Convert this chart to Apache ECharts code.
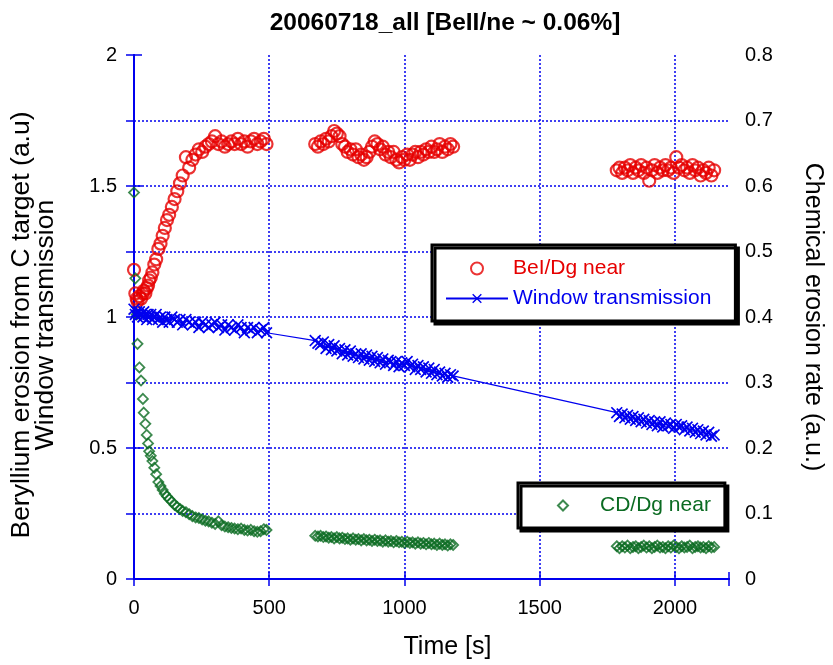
<!DOCTYPE html>
<html>
<head>
<meta charset="utf-8">
<title>20060718_all</title>
<script src="https://cdn.jsdelivr.net/npm/echarts@6/dist/echarts.min.js"></script>
<style>
  html, body { margin: 0; padding: 0; background: #fff; }
  #chart { width: 833px; height: 665px; }
</style>
</head>
<body>
<div id="chart"></div>
<script>
// time stamps [s] of the three acquisition windows
const timeA = [0, 5, 10, 13, 20, 26, 33, 36, 42, 47, 52, 56, 62, 68, 75, 82, 90, 98, 106, 114,
  122, 130, 140, 150, 160, 170, 180, 192, 204, 216, 228, 240, 252, 264, 276, 288, 300, 312, 324, 336,
  348, 360, 372, 384, 396, 408, 420, 432, 444, 456, 468, 480, 490];
const timeB = [670, 680, 690, 700, 710, 720, 730, 740, 750, 760, 770, 780, 790, 800, 810, 820, 830,
  840, 850, 860, 870, 880, 890, 900, 910, 920, 930, 940, 950, 960, 970, 980, 990, 1000, 1010, 1020,
  1030, 1040, 1050, 1060, 1070, 1080, 1090, 1100, 1110, 1120, 1130, 1140, 1150, 1160, 1170, 1180];
const timeC = [1785, 1795, 1805, 1815, 1825, 1835, 1845, 1855, 1865, 1875, 1885, 1895, 1905, 1915,
  1925, 1935, 1945, 1955, 1965, 1975, 1985, 1995, 2005, 2015, 2025, 2035, 2045, 2055, 2065, 2075,
  2085, 2095, 2105, 2115, 2125, 2135, 2145];

// BeI/Dg near (left axis)
const beA = [1.18, 1.09, 1.07, 1.06, 1.08, 1.07, 1.09, 1.10, 1.09, 1.11, 1.12, 1.14, 1.15, 1.17, 1.20,
  1.22, 1.26, 1.28, 1.31, 1.34, 1.37, 1.39, 1.42, 1.45, 1.48, 1.51, 1.54, 1.61, 1.57, 1.60,
  1.62, 1.64, 1.63, 1.65, 1.66, 1.67, 1.69, 1.66, 1.67, 1.65, 1.66, 1.67, 1.66, 1.68, 1.66,
  1.67, 1.65, 1.67, 1.68, 1.66, 1.67, 1.68, 1.66];
const beB = [1.66, 1.65, 1.67, 1.66, 1.68, 1.67, 1.69, 1.71, 1.70, 1.69,
  1.66, 1.65, 1.63, 1.64, 1.62, 1.64, 1.61, 1.62, 1.60, 1.61,
  1.63, 1.65, 1.67, 1.66, 1.64, 1.65, 1.62, 1.63, 1.61, 1.63,
  1.60, 1.59, 1.61, 1.60, 1.62, 1.60, 1.62, 1.63, 1.61, 1.63,
  1.62, 1.64, 1.63, 1.65, 1.63, 1.64, 1.66, 1.63, 1.65, 1.64,
  1.66, 1.65];
const beC = [1.56, 1.57, 1.55, 1.57, 1.56, 1.58, 1.55, 1.57, 1.56, 1.58,
  1.55, 1.57, 1.52, 1.56, 1.58, 1.55, 1.57, 1.56, 1.58, 1.56,
  1.57, 1.55, 1.61, 1.57, 1.58, 1.56, 1.57, 1.55, 1.58, 1.56,
  1.57, 1.54, 1.56, 1.55, 1.57, 1.54, 1.56];

// Window transmission (left axis)
const winA = [1.03, 1.01, 1.02, 1.00, 1.02, 1.01, 1.00, 1.02, 1.01, 0.99, 1.01, 1.00, 1.01, 0.99, 1.00,
  1.01, 0.99, 1.00, 0.98, 1.00, 0.99, 0.98, 1.00, 0.99, 0.98, 0.99, 0.97, 0.99, 0.98, 0.97,
  0.98, 0.96, 0.98, 0.97, 0.96, 0.97, 0.98, 0.96, 0.97, 0.95, 0.97, 0.96, 0.95, 0.97, 0.96,
  0.94, 0.96, 0.95, 0.96, 0.94, 0.95, 0.96, 0.94];
const winB = [0.91, 0.90, 0.895, 0.905, 0.88, 0.895, 0.875, 0.89, 0.87, 0.88,
  0.86, 0.875, 0.855, 0.87, 0.85, 0.86, 0.845, 0.86, 0.84, 0.855,
  0.835, 0.85, 0.83, 0.845, 0.825, 0.84, 0.82, 0.835, 0.83, 0.815,
  0.83, 0.81, 0.825, 0.815, 0.83, 0.81, 0.82, 0.80, 0.815, 0.80,
  0.81, 0.79, 0.805, 0.785, 0.80, 0.78, 0.79, 0.775, 0.785, 0.77,
  0.78, 0.775];
const winC = [0.635, 0.62, 0.63, 0.615, 0.625, 0.61, 0.62, 0.605, 0.615, 0.60,
  0.61, 0.595, 0.605, 0.59, 0.60, 0.585, 0.60, 0.58, 0.595, 0.585,
  0.59, 0.575, 0.59, 0.58, 0.585, 0.57, 0.58, 0.565, 0.575, 0.56,
  0.57, 0.555, 0.565, 0.55, 0.56, 0.545, 0.55];

// CD/Dg near (right axis, chemical erosion rate)
const cdA = [0.590, 0.459, 0.404, 0.359, 0.323, 0.303, 0.275, 0.254, 0.237, 0.220, 0.207, 0.195, 0.188,
  0.180, 0.170, 0.160, 0.148, 0.142, 0.136, 0.130, 0.126, 0.122, 0.118, 0.113, 0.110, 0.107,
  0.104, 0.102, 0.099, 0.096, 0.094, 0.093, 0.091, 0.089, 0.088, 0.086, 0.084, 0.088, 0.082,
  0.080, 0.079, 0.078, 0.077, 0.076, 0.077, 0.075, 0.074, 0.075, 0.073, 0.072, 0.073, 0.076, 0.075];
const cdB = [0.066, 0.065, 0.066, 0.064, 0.065, 0.063, 0.064, 0.062, 0.064, 0.062,
  0.063, 0.061, 0.062, 0.060, 0.062, 0.060, 0.061, 0.059, 0.061, 0.059,
  0.060, 0.058, 0.060, 0.058, 0.059, 0.057, 0.059, 0.057, 0.058, 0.056,
  0.058, 0.056, 0.057, 0.055, 0.057, 0.055, 0.056, 0.054, 0.056, 0.054,
  0.055, 0.053, 0.055, 0.053, 0.054, 0.052, 0.054, 0.052, 0.053, 0.051,
  0.053, 0.052];
const cdC = [0.050, 0.047, 0.050, 0.048, 0.051, 0.047, 0.049, 0.050, 0.047, 0.049,
  0.051, 0.048, 0.050, 0.047, 0.049, 0.051, 0.048, 0.049, 0.047, 0.050,
  0.048, 0.051, 0.049, 0.047, 0.050, 0.048, 0.049, 0.051, 0.047, 0.049,
  0.050, 0.048, 0.049, 0.047, 0.050, 0.048, 0.049];

const RED = '#e60000';
const BLUE = '#0000ee';
const GREEN = '#0b6b22';
const FONT = '"Liberation Sans", Arial, sans-serif';
const CROSS = 'path://M0,1L1,0L5,4L9,0L10,1L6,5L10,9L9,10L5,6L1,10L0,9L4,5Z';
const DIAMOND = 'path://M5,0L10,5L5,10L0,5Z';

const zip = (ts, vs) => ts.map((t, i) => [t, vs[i]]);
const join3 = (ta, a, tb, b, tc, c) => zip(ta, a).concat(zip(tb, b), zip(tc, c));

const axisLine = { show: true, lineStyle: { color: BLUE, width: 2 } };
const dotted = { show: true, lineStyle: { color: BLUE, type: [2, 2], width: 1.5 } };
const legendBox = {
  orient: 'vertical', backgroundColor: '#fff', borderColor: '#000', borderWidth: 3,
  shadowColor: '#000', shadowOffsetX: 3, shadowOffsetY: 3, shadowBlur: 0,
  symbolKeepAspect: true, selectedMode: false,
  textStyle: { fontFamily: FONT, fontSize: 21 }
};

const chart = echarts.init(document.getElementById('chart'));
chart.setOption({
  animation: false,
  backgroundColor: '#fff',
  textStyle: { fontFamily: FONT },
  title: {
    text: '20060718_all [BeII/ne ~ 0.06%]',
    left: 440, top: 6, textAlign: 'center',
    textStyle: { fontFamily: FONT, fontSize: 24.5, fontWeight: 'bold', color: '#000' }
  },
  grid: { left: 134, right: 100, top: 55, bottom: 84, containLabel: false },
  legend: [Object.assign({
    data: [
      { name: 'BeI/Dg near', textStyle: { color: RED } },
      { name: 'Window transmission', textStyle: { color: BLUE } }
    ],
    left: 432, top: 245,
    padding: [13, 24, 12, 13],
    itemWidth: 62, itemHeight: 12, itemGap: 9
  }, legendBox), Object.assign({
    data: [{ name: 'CD/Dg near', textStyle: { color: GREEN } }],
    left: 518, top: 483,
    padding: [12, 14, 12, 39],
    itemWidth: 64, itemHeight: 10
  }, legendBox)],
  xAxis: [{
    type: 'value', position: 'bottom', min: 0, max: 2200, interval: 500,
    name: 'Time [s]', nameLocation: 'middle', nameGap: 56,
    nameTextStyle: { fontFamily: FONT, fontSize: 25, color: '#000', padding: [0, 0, 0, 32] },
    axisLine: axisLine,
    axisTick: { inside: true, length: 7, lineStyle: { color: BLUE, width: 1.5 } },
    axisLabel: {
      fontSize: 20, color: '#000', margin: 19,
      formatter: v => (v % 500 === 0 ? String(v) : '')
    },
    splitLine: Object.assign({ showMinLine: false, showMaxLine: false }, dotted)
  }, {
    type: 'value', position: 'top', min: 0, max: 2200, interval: 500,
    axisLine: axisLine,
    axisTick: { inside: true, length: 7, lineStyle: { color: BLUE, width: 1.5 } },
    axisLabel: { show: false },
    splitLine: { show: false }
  }],
  yAxis: [{
    type: 'value', position: 'left', min: 0, max: 2, interval: 0.5,
    name: 'Beryllium erosion from C target (a.u)\nWindow transmission',
    nameLocation: 'middle', nameGap: 76, nameRotate: 90,
    nameTextStyle: { fontFamily: FONT, fontSize: 26.5, lineHeight: 24, color: '#000', padding: [0, 16, 0, 0] },
    axisLine: axisLine,
    axisTick: { inside: true, length: 8, lineStyle: { color: BLUE, width: 1.5 } },
    axisLabel: { fontSize: 20, color: '#000', margin: 17 },
    splitLine: { show: false }
  }, {
    type: 'value', position: 'right', min: 0, max: 0.8, interval: 0.1,
    name: 'Chemical erosion rate (a.u.)',
    nameLocation: 'middle', nameGap: 71, nameRotate: -90,
    nameTextStyle: { fontFamily: FONT, fontSize: 25, color: '#000', padding: [8, 0, 0, 0] },
    axisLine: axisLine,
    axisTick: { inside: true, length: 8, lineStyle: { color: BLUE, width: 1.5 } },
    axisLabel: { fontSize: 20, color: '#000', margin: 16 },
    splitLine: Object.assign({ showMinLine: false, showMaxLine: false }, dotted)
  }],
  series: [{
    name: 'BeI/Dg near',
    type: 'scatter', xAxisIndex: 0, yAxisIndex: 0,
    data: join3(timeA, beA, timeB, beB, timeC, beC),
    symbol: 'circle', symbolSize: 12,
    itemStyle: { color: 'rgba(0,0,0,0)', borderColor: RED, borderWidth: 2.2 },
    emphasis: { disabled: true }
  }, {
    name: 'Window transmission',
    type: 'line', xAxisIndex: 0, yAxisIndex: 0,
    data: join3(timeA, winA, timeB, winB, timeC, winC),
    symbol: CROSS, symbolSize: 12, showAllSymbol: true,
    lineStyle: { color: BLUE, width: 1.2 },
    itemStyle: { color: BLUE },
    emphasis: { disabled: true }
  }, {
    name: 'CD/Dg near',
    type: 'scatter', xAxisIndex: 0, yAxisIndex: 1,
    data: join3(timeA, cdA, timeB, cdB, timeC, cdC),
    symbol: DIAMOND, symbolSize: 10,
    itemStyle: { color: 'rgba(0,0,0,0)', borderColor: GREEN, borderWidth: 1.8 },
    emphasis: { disabled: true }
  }]
});
</script>
</body>
</html>
